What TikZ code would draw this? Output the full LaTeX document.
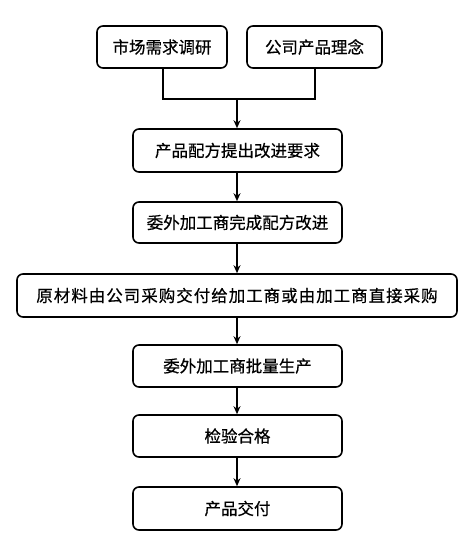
\documentclass[tikz,border=0pt]{standalone}
\usepackage{fontspec}
\newfontfamily\cjk[FakeBold=0.6]{Noto Sans CJK SC}
\usetikzlibrary{arrows.meta}
\begin{document}
\begin{tikzpicture}[x=1pt,y=-1pt,
  stepbox/.style={draw, line width=1.6pt, rounded corners=6pt, fill=white, font=\cjk\fontsize{16.5}{19}\selectfont},
  conn/.style={line width=1.4pt},
  arr/.style={conn, -{Stealth[length=8pt,width=7pt]}}]
\useasboundingbox (0,0) rectangle (468,543);
\node[stepbox, minimum width=130pt, minimum height=42pt] (a) at (162,47) {市场需求调研};
\node[stepbox, minimum width=135pt, minimum height=42pt] (b) at (314.5,47) {公司产品理念};
\node[stepbox, minimum width=209pt, minimum height=43pt] (c) at (237.5,150.5) {产品配方提出改进要求};
\node[stepbox, minimum width=209pt, minimum height=41pt] (d) at (237.5,222.5) {委外加工商完成配方改进};
\node[stepbox, minimum width=440pt, minimum height=43pt] (e) at (237,295.5) {\addfontfeature{LetterSpace=6}原材料由公司采购交付给加工商或由加工商直接采购};
\node[stepbox, minimum width=209pt, minimum height=42pt] (f) at (237.5,366) {委外加工商批量生产};
\node[stepbox, minimum width=209pt, minimum height=42pt] (g) at (237.5,436) {检验合格};
\node[stepbox, minimum width=209pt, minimum height=43pt] (h) at (237.5,508.5) {产品交付};
\coordinate (j) at (237,99);
\draw[conn] (a.south -| 163,0) |- (j) -| (b.south -| 315,0);
\draw[arr] (j) -- (c.north -| j);
\draw[arr] (c.south -| j) -- (d.north -| j);
\draw[arr] (d.south -| j) -- (e.north -| j);
\draw[arr] (e.south -| j) -- (f.north -| j);
\draw[arr] (f.south -| j) -- (g.north -| j);
\draw[arr] (g.south -| j) -- (h.north -| j);
\end{tikzpicture}
\end{document}
